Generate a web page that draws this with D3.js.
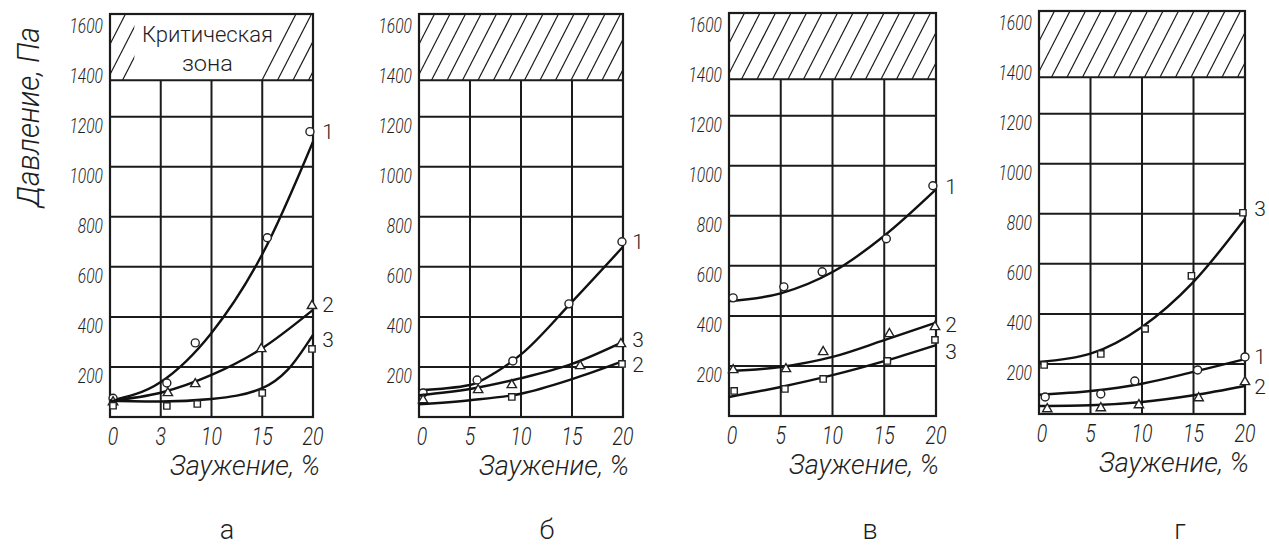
<!DOCTYPE html>
<html lang="ru">
<head>
<meta charset="utf-8">
<title>Давление — заужение</title>
<script src="https://cdn.jsdelivr.net/npm/d3@7.9.0/dist/d3.min.js"></script>
<style>
  body { margin: 0; background: #fff; }
  svg { display: block; }
  text {
    font-family: Roboto, "Open Sans", "DejaVu Sans Condensed", sans-serif;
    font-weight: 300;
    font-style: italic;
    fill: #1e1e1e;
  }
  text.upright { font-style: normal; }
</style>
</head>
<body>
<svg id="chart" width="1269" height="545"></svg>
<script>
// ---- data ----
const panelLetters = ['а', 'б', 'в', 'г'];
const xTicks = [0, 5, 10, 15, 20];
const xTickLabelsA = ['0', '3', '10', '15', '20'];
const xTickLabels = ['0', '5', '10', '15', '20'];
const yTicks = [200, 400, 600, 800, 1000, 1200, 1400, 1600];
const yGrid = [200, 400, 600, 800, 1000, 1200];
const criticalFrom = 1345;
const criticalTo = 1610;

// panel а: measured points and drawn curves
const aPts1 = [[0.3, 75], [5.6, 136], [8.4, 296], [15.5, 716], [19.7, 1140]];
const aPts2 = [[0.3, 60], [5.7, 96], [8.4, 132], [14.9, 272], [19.9, 444]];
const aPts3 = [[0.3, 45], [5.6, 44], [8.6, 52], [15.0, 96], [19.9, 272]];
const aFit1 = [[0, 65], [5, 140], [10, 336], [15, 650], [20, 1100]];
const aFit2 = [[0, 65], [5, 97], [10, 168], [15, 275], [20, 428]];
const aFit3 = [[0, 65], [5, 62], [10, 72], [15, 115], [17.5, 188], [20, 328]];

// panel б
const bPts1 = [[0.4, 96], [5.7, 148], [9.2, 224], [14.7, 452], [19.9, 700]];
const bPts3 = [[0.4, 68], [5.8, 108], [9.1, 128], [15.8, 204], [19.8, 292]];
const bPts2 = [[9.1, 80], [19.9, 212]];
const bFit1 = [[0, 107], [5, 128], [7.5, 178], [10, 250], [15, 460], [20, 680]];
const bFit3 = [[0, 87], [5, 112], [10, 155], [15, 212], [20, 300]];
const bFit2 = [[0, 51], [5, 67], [10, 93], [15, 151], [20, 223]];

// panel в
const cPts1 = [[0.4, 472], [5.3, 516], [9.0, 576], [15.2, 708], [19.7, 920]];
const cPts2 = [[0.4, 184], [5.5, 188], [9.1, 256], [15.5, 328], [19.9, 356]];
const cPts3 = [[0.5, 100], [5.4, 108], [9.1, 148], [15.3, 220], [19.9, 304]];
const cFit1 = [[0, 459], [5, 490], [10, 575], [15, 720], [20, 905]];
const cFit2 = [[0, 179], [5, 196], [10, 236], [15, 303], [20, 373]];
const cFit3 = [[0, 76], [5, 116], [10, 163], [15, 219], [20, 283]];

// panel г
const dPts3 = [[0.5, 196], [6.0, 240], [10.3, 340], [14.8, 552], [19.8, 804]];
const dPts1 = [[0.6, 68], [6.0, 80], [9.3, 132], [15.4, 176], [20, 228]];
const dPts2 = [[0.8, 20], [6.0, 24], [9.7, 36], [15.5, 64], [20, 128]];
const dFit3 = [[0, 208], [5, 241], [10, 348], [15, 528], [20, 780]];
const dFit1 = [[0, 77], [5, 92], [10, 121], [15, 168], [20, 219]];
const dFit2 = [[0, 32], [5, 35], [10, 48], [15, 75], [20, 112]];

// ---- layout ----
const panelLeft = [110, 419, 729, 1039];
const panelWidth = [203, 204, 207, 206];
const panelTop = [14, 14, 13, 11];
const panelHeight = 403;
const letterX = [227, 547, 870, 1180];
// where the curve numbers sit (in Pa), same order as each panel's series
const curveLabelAt = [[1140, 448, 308], [700, 308, 208], [916, 364, 256], [820, 228, 108]];

const panels = [
  {
    ticks: xTickLabelsA,
    series: [
      { name: '1', shape: 'circle', pts: aPts1, fit: aFit1 },
      { name: '2', shape: 'triangle', pts: aPts2, fit: aFit2 },
      { name: '3', shape: 'square', pts: aPts3, fit: aFit3 },
    ],
  },
  {
    ticks: xTickLabels,
    series: [
      { name: '1', shape: 'circle', pts: bPts1, fit: bFit1 },
      { name: '3', shape: 'triangle', pts: bPts3, fit: bFit3 },
      { name: '2', shape: 'square', pts: bPts2, fit: bFit2 },
    ],
  },
  {
    ticks: xTickLabels,
    series: [
      { name: '1', shape: 'circle', pts: cPts1, fit: cFit1 },
      { name: '2', shape: 'triangle', pts: cPts2, fit: cFit2 },
      { name: '3', shape: 'square', pts: cPts3, fit: cFit3 },
    ],
  },
  {
    ticks: xTickLabels,
    series: [
      { name: '3', shape: 'square', pts: dPts3, fit: dFit3 },
      { name: '1', shape: 'circle', pts: dPts1, fit: dFit1 },
      { name: '2', shape: 'triangle', pts: dPts2, fit: dFit2 },
    ],
  },
];

const ink = '#1b1b1b';
const svg = d3.select('#chart');
svg.append('rect').attr('width', 1269).attr('height', 545).attr('fill', '#fff');

// y axis title
svg
  .append('text')
  .attr('transform', 'translate(39,117) rotate(-90)')
  .attr('text-anchor', 'middle')
  .attr('font-size', 31)
  .attr('textLength', 180)
  .attr('lengthAdjust', 'spacingAndGlyphs')
  .text('Давление, Па');

const triangle = d3.symbol().type(d3.symbolTriangle).size(38);
const square = d3.symbol().type(d3.symbolSquare).size(40);

panels.forEach((panel, i) => {
  const left = panelLeft[i];
  const right = left + panelWidth[i];
  const top = panelTop[i];
  const bottom = top + panelHeight;

  let x = d3.scaleLinear().domain([0, 20]).range([left, right]);
  let y = d3.scaleLinear().domain([0, criticalTo]).range([bottom, top]);

  const g = svg.append('g');
  const zoneBottom = y(criticalFrom);

  // hatched critical zone
  const clipId = `zone-${i}`;
  g.append('clipPath')
    .attr('id', clipId)
    .append('rect')
    .attr('x', left)
    .attr('y', top)
    .attr('width', right - left)
    .attr('height', zoneBottom - top);

  const hatch = g.append('g').attr('clip-path', `url(#${clipId})`);
  const step = 15.5;
  const lean = 34;
  for (let hx = left - lean; hx < right + step; hx += step) {
    hatch
      .append('line')
      .attr('x1', hx)
      .attr('y1', zoneBottom)
      .attr('x2', hx + lean)
      .attr('y2', top)
      .attr('stroke', ink)
      .attr('stroke-width', 1.2);
  }

  if (i === 0) {
    // clear space for the caption inside the zone
    hatch
      .append('polygon')
      .attr('points', [
        [x(2.4), top],
        [x(17.7), top],
        [x(14.8), zoneBottom],
        [x(2.4), zoneBottom],
      ].join(' '))
      .attr('fill', '#fff');

    g.append('text')
      .attr('class', 'upright')
      .attr('x', x(9.6))
      .attr('y', 42)
      .attr('text-anchor', 'middle')
      .attr('font-size', 22)
      .attr('textLength', 131)
      .attr('lengthAdjust', 'spacingAndGlyphs')
      .text('Критическая');
    g.append('text')
      .attr('class', 'upright')
      .attr('x', x(9.6))
      .attr('y', 71)
      .attr('text-anchor', 'middle')
      .attr('font-size', 22)
      .attr('textLength', 51)
      .attr('lengthAdjust', 'spacingAndGlyphs')
      .text('зона');
  }

  // grid
  g.selectAll('.hgrid')
    .data(yGrid)
    .join('line')
    .attr('x1', left)
    .attr('x2', right)
    .attr('y1', (d) => y(d))
    .attr('y2', (d) => y(d))
    .attr('stroke', ink)
    .attr('stroke-width', 2);

  g.selectAll('.vgrid')
    .data(xTicks.slice(1, -1))
    .join('line')
    .attr('x1', (d) => x(d))
    .attr('x2', (d) => x(d))
    .attr('y1', zoneBottom)
    .attr('y2', bottom)
    .attr('stroke', ink)
    .attr('stroke-width', 2);

  g.append('line')
    .attr('x1', left)
    .attr('x2', right)
    .attr('y1', zoneBottom)
    .attr('y2', zoneBottom)
    .attr('stroke', ink)
    .attr('stroke-width', 2);

  g.append('rect')
    .attr('x', left)
    .attr('y', top)
    .attr('width', right - left)
    .attr('height', bottom - top)
    .attr('fill', 'none')
    .attr('stroke', ink)
    .attr('stroke-width', 2.2);

  // tick labels
  g.selectAll('.ylab')
    .data(yTicks)
    .join('text')
    .attr('x', left - 7)
    .attr('y', (d) => y(d) + 16)
    .attr('text-anchor', 'end')
    .attr('font-size', 21)
    .attr('textLength', (d) => String(d).length * 8.4)
    .attr('lengthAdjust', 'spacingAndGlyphs')
    .text((d) => d);

  g.selectAll('.xlab')
    .data(xTicks)
    .join('text')
    .attr('x', (d) => x(d) + (d === 0 ? 3 : 0))
    .attr('y', bottom + 28)
    .attr('text-anchor', 'middle')
    .attr('font-size', 25)
    .attr('textLength', (d, k) => panel.ticks[k].length * 10.5)
    .attr('lengthAdjust', 'spacingAndGlyphs')
    .text((d, k) => panel.ticks[k]);

  g.append('text')
    .attr('x', left + 60)
    .attr('y', bottom + 58)
    .attr('font-size', 27)
    .attr('textLength', 150)
    .attr('lengthAdjust', 'spacingAndGlyphs')
    .text('Заужение, %');

  g.append('text')
    .attr('class', 'upright')
    .attr('x', letterX[i])
    .attr('y', 539)
    .attr('text-anchor', 'middle')
    .attr('font-size', 27)
    .text(panelLetters[i]);

  // curves and measured points
  const line = d3
    .line()
    .x((d) => x(d[0]))
    .y((d) => y(d[1]))
    .curve(d3.curveMonotoneX);

  panel.series.forEach((s, k) => {
    g.append('path')
      .attr('d', line(s.fit))
      .attr('fill', 'none')
      .attr('stroke', '#111')
      .attr('stroke-width', 2.4);

    const marks = g.selectAll(`.m${k}`).data(s.pts).join('g')
      .attr('transform', (d) => `translate(${x(d[0])},${y(d[1])})`);

    if (s.shape === 'circle') {
      marks.append('circle').attr('r', 4);
    } else {
      marks.append('path').attr('d', s.shape === 'triangle' ? triangle() : square());
    }
    marks.selectAll('circle, path')
      .attr('fill', '#fff')
      .attr('stroke', '#222')
      .attr('stroke-width', 1.4);

    g.append('text')
      .attr('class', 'upright')
      .attr('x', right + 15)
      .attr('y', y(curveLabelAt[i][k]) + 7)
      .attr('text-anchor', 'middle')
      .attr('font-size', 21)
      .text(s.name);
  });
});
</script>
</body>
</html>
